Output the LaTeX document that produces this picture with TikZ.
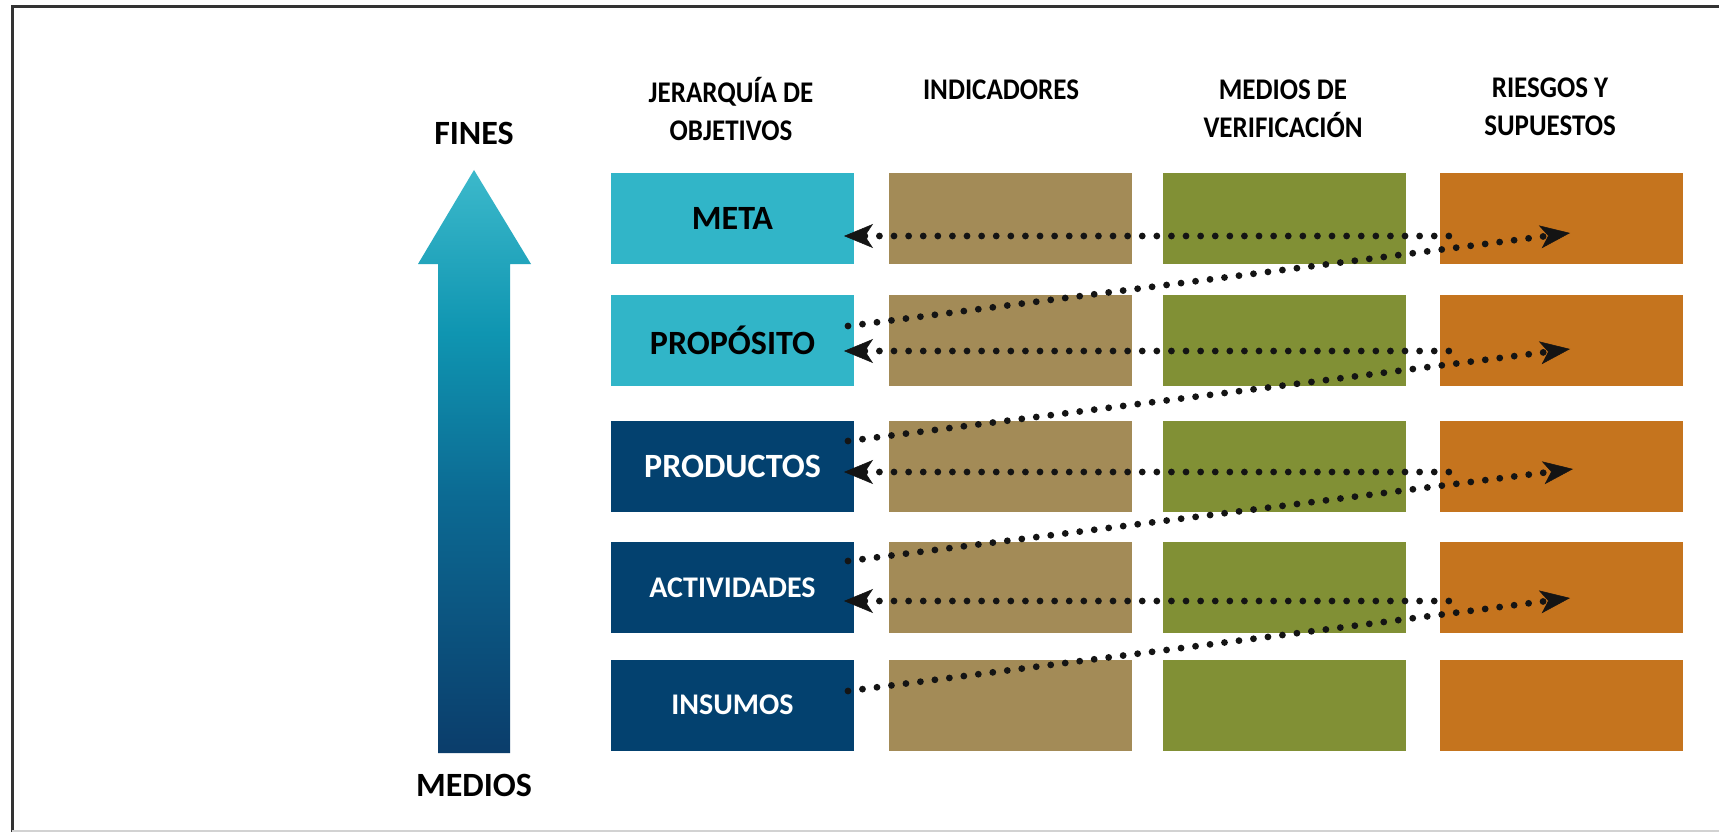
\documentclass[tikz,border=0pt]{standalone}
\usepackage{fontspec}
\setmainfont{Carlito}
\newfontfamily\hdrfont{Carlito}[FakeStretch=0.9]
\usetikzlibrary{arrows.meta}
\definecolor{cyanbox}{HTML}{31B5C8}
\definecolor{navybox}{HTML}{03416F}
\definecolor{tanbox}{HTML}{A38B57}
\definecolor{olivebox}{HTML}{819035}
\definecolor{orangebox}{HTML}{C5741E}
\definecolor{arrowtop}{HTML}{3CB9CB}
\definecolor{arrowhi}{HTML}{0F95B1}
\definecolor{arrowmid}{HTML}{0C6A93}
\definecolor{arrowbot}{HTML}{0B3D6B}
\definecolor{dotcol}{HTML}{141414}
\definecolor{framecol}{HTML}{333333}
\pgfdeclareverticalshading{arrowshade}{100bp}{color(0bp)=(arrowbot); color(25bp)=(arrowbot); color(47bp)=(arrowmid); color(61bp)=(arrowhi); color(75bp)=(arrowtop); color(100bp)=(arrowtop)}
\tikzset{
  cell/.style={minimum width=243pt, minimum height=91pt, inner sep=0pt, outer sep=0pt},
  hlite/.style={cell, fill=cyanbox, text=black, font=\bfseries\fontsize{34}{40}\selectfont},
  hdark/.style={cell, fill=navybox, text=white, font=\bfseries\fontsize{34}{40}\selectfont},
  hdarks/.style={cell, fill=navybox, text=white, font=\bfseries\fontsize{30}{36}\selectfont},
  ind/.style={cell, fill=tanbox},
  ver/.style={cell, fill=olivebox},
  rsk/.style={cell, fill=orangebox},
  header/.style={align=center, inner sep=0pt, font=\hdrfont\bfseries\fontsize{30}{38}\selectfont},
  endlabel/.style={inner sep=0pt, font=\bfseries\fontsize{34}{40}\selectfont},
  dotline/.style={draw=dotcol, line width=6.8pt, line cap=round, dash pattern=on 0pt off 14.6pt},
  backtip/.style={{Stealth[length=29pt,width=24pt,inset=8pt,line width=0.5pt]}-},
  fwdtip/.style={-{Stealth[length=30pt,width=23pt,inset=8pt,line width=0.5pt]}}
}
\begin{document}
\begin{tikzpicture}[x=1pt,y=-1pt]
\useasboundingbox (0,0) rectangle (1719,832);
\fill[white] (0,0) rectangle (1719,832);
% frame
\draw[framecol, line width=3pt] (1719,7) -- (12,7) -- (12,832);
\draw[gray!35, line width=2pt] (12,831) -- (1719,831);
% big arrow
\shade[shading=arrowshade]
  (474,170) -- (531,264) -- (510,264) -- (510,753) -- (438,753) -- (438,264) -- (418,264) -- cycle;
\node[endlabel] (fines) at (474,133) {FINES};
\node[endlabel] (medios) at (474,785) {MEDIOS};
% headers
\node[header] (h1) at (731,109) {JERARQUÍA DE\\OBJETIVOS};
\node[header] (h2) at (1001,90) {INDICADORES};
\node[header] (h3) at (1283,109) {MEDIOS DE\\VERIFICACIÓN};
\node[header] (h4) at (1550,107) {RIESGOS Y\\SUPUESTOS};
% column 1
\node[hlite] (meta) at (732.5,218.5) {META};
\node[hlite] (prop) at (732.5,340) {PROPÓSITO};
\node[hdark] (prod) at (732.5,466) {PRODUCTOS};
\node[hdarks] (act) at (732.5,587.5) {ACTIVIDADES};
\node[hdarks] (ins) at (732.5,705) {INSUMOS};
% column 2
\node[ind] (i1) at (1010,218.5) {};
\node[ind] (i2) at (1010,340) {};
\node[ind] (i3) at (1010,466) {};
\node[ind] (i4) at (1010,587.5) {};
\node[ind] (i5) at (1010,705) {};
% column 3
\node[ver] (v1) at (1284.5,218.5) {};
\node[ver] (v2) at (1284.5,340) {};
\node[ver] (v3) at (1284.5,466) {};
\node[ver] (v4) at (1284.5,587.5) {};
\node[ver] (v5) at (1284.5,705) {};
% column 4
\node[rsk] (r1) at (1561.5,218.5) {};
\node[rsk] (r2) at (1561.5,340) {};
\node[rsk] (r3) at (1561.5,466) {};
\node[rsk] (r4) at (1561.5,587.5) {};
\node[rsk] (r5) at (1561.5,705) {};
% connectors: horizontal (back to objective)
\draw[dotline, backtip] ([shift={(-10,17.5)}]meta.east) -- ([shift={(14,17.5)}]r1.west);
\draw[dotline, backtip] ([shift={(-10,11)}]prop.east) -- ([shift={(14,11)}]r2.west);
\draw[dotline, backtip] ([shift={(-10,6)}]prod.east) -- ([shift={(14,6)}]r3.west);
\draw[dotline, backtip] ([shift={(-10,13.5)}]act.east) -- ([shift={(14,13.5)}]r4.west);
% connectors: diagonal (lower level to assumptions above)
\draw[dotline, fwdtip] ([shift={(-6,-14)}]prop.east) -- ([shift={(8.5,14.5)}]r1.center);
\draw[dotline, fwdtip] ([shift={(-6,-25)}]prod.east) -- ([shift={(8.5,9)}]r2.center);
\draw[dotline, fwdtip] ([shift={(-6,-26.5)}]act.east) -- ([shift={(11.5,3)}]r3.center);
\draw[dotline, fwdtip] ([shift={(-6,-14)}]ins.east) -- ([shift={(8.5,10.5)}]r4.center);
\end{tikzpicture}
\end{document}
